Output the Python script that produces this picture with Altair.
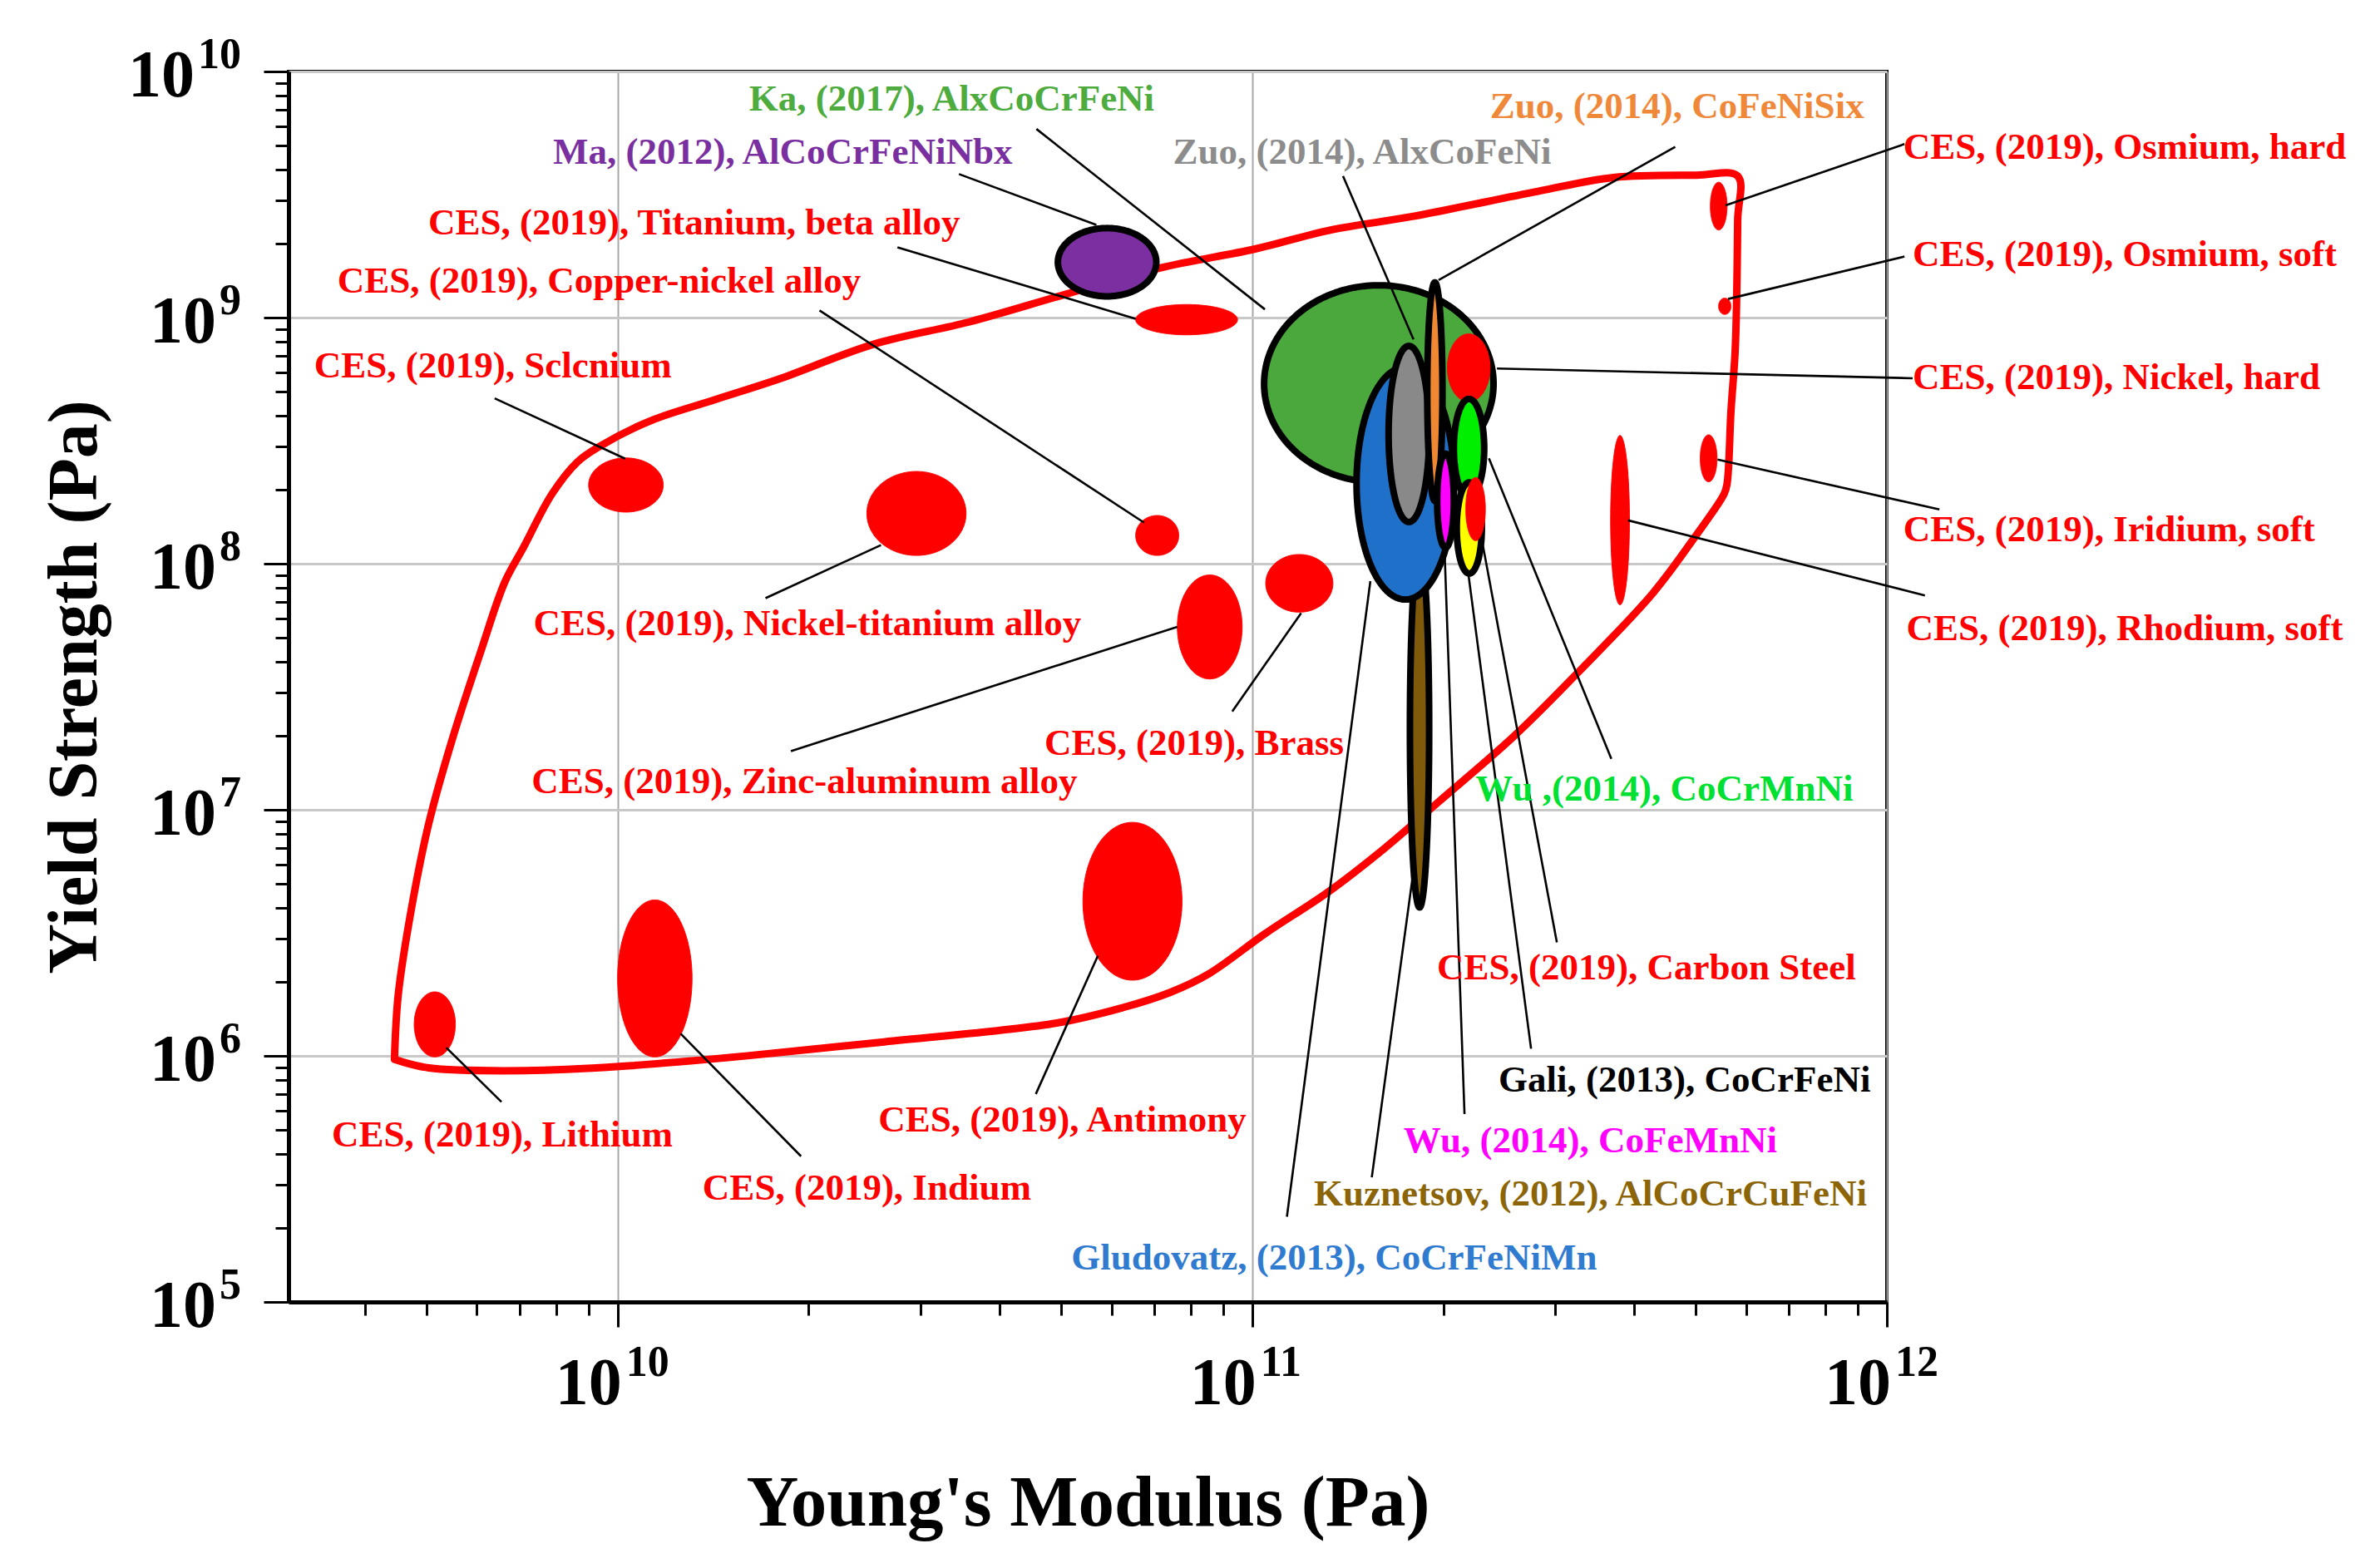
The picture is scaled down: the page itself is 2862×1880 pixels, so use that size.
import altair as alt
import pandas as pd

# ---------------- axis ranges ----------------
X_MIN, X_MAX = 3.03e9, 1e12
Y_MIN, Y_MAX = 1e5, 1e10

# ---------------- material property ranges (Pa) ----------------
ell_names = [
    "CES Lithium", "CES Indium", "CES Antimony", "CES Selenium", "CES Nickel-titanium alloy",
    "CES Copper-nickel alloy", "CES Zinc-aluminum alloy", "CES Brass", "CES Titanium beta alloy",
    "CES Osmium hard", "CES Osmium soft", "CES Iridium soft", "CES Rhodium soft",
    "Ma AlCoCrFeNiNbx", "Ka AlxCoCrFeNi", "Kuznetsov AlCoCrCuFeNi", "Gludovatz CoCrFeNiMn",
    "Zuo AlxCoFeNi", "Zuo CoFeNiSix", "Wu CoFeMnNi", "CES Nickel hard", "Wu CoCrMnNi",
    "Gali CoCrFeNi", "CES Carbon Steel",
]
ell_e_min = [4.78e9, 1.00e10, 5.41e10, 9.0e9, 2.47e10, 6.55e10, 7.62e10, 1.05e11, 6.55e10,
             5.27e11, 5.43e11, 5.08e11, 3.67e11,
             4.94e10, 1.044e11, 1.772e11, 1.46e11, 1.64e11, 1.887e11, 1.956e11, 2.03e11, 2.078e11,
             2.10e11, 2.17e11]
ell_e_max = [5.55e9, 1.31e10, 7.75e10, 1.18e10, 3.54e10, 7.66e10, 9.64e10, 1.34e11, 9.48e10,
             5.60e11, 5.68e11, 5.40e11, 3.93e11,
             7.06e10, 2.40e11, 1.90e11, 2.08e11, 1.90e11, 1.994e11, 2.078e11, 2.37e11, 2.32e11,
             2.30e11, 2.33e11]
ell_s_min = [9.9e5, 9.9e5, 2.03e6, 1.62e8, 1.08e8, 1.08e8, 3.4e7, 6.35e7, 8.51e8,
             2.27e9, 1.03e9, 2.15e8, 6.8e7,
             1.22e9, 2.14e8, 4.01e6, 7.15e7, 1.477e8, 1.80e8, 1.16e8, 4.55e8, 1.855e8,
             9.12e7, 1.24e8]
ell_s_max = [1.82e6, 4.3e6, 8.89e6, 2.69e8, 2.37e8, 1.57e8, 9.0e7, 1.09e8, 1.13e9,
             3.55e9, 1.2e9, 3.34e8, 3.32e8,
             2.31e9, 1.353e9, 1.145e8, 6.29e8, 7.67e8, 1.39e9, 2.80e8, 8.59e8, 4.67e8,
             2.14e8, 2.24e8]

# style per range (fill colour, black outline or not)
ell_fill = ["#ff0000"] * 13 + ["#7b2fa0", "#4aa83c", "#7f5a0a", "#1e70c8", "#898989", "#f08833",
                               "#ff00ff", "#ff0000", "#00ee00", "#ffff00", "#ff0000"]
ell_outline = [False] * 13 + [True, True, True, True, True, True, True, False, True, True, False]

# ---------------- envelope (closed boundary) ----------------
env_E = [4.45e9, 4.51e9, 4.73e9, 5.04e9, 5.5e9, 6.09e9, 6.64e9, 7.1e9, 7.88e9, 8.64e9, 9.37e9,
         1.127e10, 1.42e10, 1.79e10, 2.53e10, 3.58e10, 5.06e10, 7.15e10, 1.01e11, 1.33e11,
         1.795e11, 2.82e11, 3.71e11, 5.01e11, 5.82e11, 5.82e11, 5.77e11, 5.68e11, 5.6e11,
         5.54e11, 5.0e11, 4.28e11, 3.3e11, 2.59e11, 1.96e11, 1.62e11, 1.315e11, 1.05e11,
         8.53e10, 7.42e10, 6.25e10, 4.92e10, 2.63e10, 1.59e10, 1.016e10, 7.16e9, 5.04e9, 4.45e9]
env_S = [9.68e5, 1.76e6, 3.94e6, 8.81e6, 1.97e7, 4.42e7, 8.42e7, 1.16e8, 1.92e8, 2.59e8, 3.0e8,
         3.81e8, 4.63e8, 5.61e8, 7.79e8, 9.6e8, 1.24e9, 1.59e9, 1.9e9, 2.27e9,
         2.58e9, 3.26e9, 3.71e9, 3.79e9, 3.76e9, 2.49e9, 7.56e8, 4.17e8, 2.11e8,
         1.92e8, 1.3e8, 7.6e7, 3.73e7, 2.0e7, 1.07e7, 7.01e6, 4.62e6, 3.15e6,
         2.15e6, 1.81e6, 1.57e6, 1.36e6, 1.14e6, 9.99e5, 9.07e5, 8.71e5, 8.93e5, 9.68e5]

# ---------------- annotation labels ----------------
label_text = [
    "Ka, (2017), AlxCoCrFeNi", "Ma, (2012), AlCoCrFeNiNbx", "Zuo, (2014), AlxCoFeNi",
    "Zuo, (2014), CoFeNiSix", "CES, (2019), Osmium, hard", "CES, (2019), Titanium, beta alloy",
    "CES, (2019), Osmium, soft", "CES, (2019), Copper-nickel alloy", "CES, (2019), Sclcnium",
    "CES, (2019), Nickel, hard", "CES, (2019), Iridium, soft", "CES, (2019), Nickel-titanium alloy",
    "CES, (2019), Rhodium, soft", "CES, (2019), Brass", "CES, (2019), Zinc-aluminum alloy",
    "Wu ,(2014), CoCrMnNi", "CES, (2019), Carbon Steel", "Gali, (2013), CoCrFeNi",
    "CES, (2019), Lithium", "CES, (2019), Antimony", "Wu, (2014), CoFeMnNi", "CES, (2019), Indium",
    "Kuznetsov, (2012), AlCoCrCuFeNi", "Gludovatz, (2013), CoCrFeNiMn",
]
label_group = ["Ka", "Ma", "ZuoA", "ZuoB", "CES", "CES", "CES", "CES", "CES", "CES", "CES", "CES",
               "CES", "CES", "CES", "WuA", "CES", "Gali", "CES", "CES", "WuB", "CES", "Kuz", "Glu"]
label_E = [3.36e10, 1.82e10, 1.49e11, 4.67e11, 2.37e12, 1.32e10, 2.37e12, 9.35e9, 6.36e9,
           2.30e12, 2.24e12, 1.99e10, 2.37e12, 8.1e10, 1.97e10, 4.46e11, 4.18e11, 4.80e11,
           6.58e9, 5.02e10, 3.41e11, 2.47e10, 3.41e11, 1.346e11]
label_S = [7.76e9, 4.72e9, 4.72e9, 7.22e9, 4.93e9, 2.42e9, 1.8e9, 1.41e9, 6.38e8,
           5.69e8, 1.38e8, 5.71e7, 5.47e7, 1.86e7, 1.30e7, 1.215e7, 2.28e6, 7.96e5,
           4.77e5, 5.5e5, 4.51e5, 2.9e5, 2.74e5, 1.51e5]
group_names = ["CES", "Ka", "Ma", "ZuoA", "ZuoB", "WuA", "WuB", "Gali", "Kuz", "Glu"]
group_colors = ["#ff0000", "#4eac3f", "#7a2fa0", "#8c8c8c", "#f0883a", "#00e033", "#ff00ff",
                "#000000", "#8b6508", "#2f7bd0"]

# leader lines: label end -> range end
lead_E1 = [4.57e10, 3.45e10, 2.76e10, 2.08e10, 6.4e9, 1.71e10, 1.875e10, 9.3e10, 6.56e9, 1.945e10,
           4.56e10, 1.134e11, 1.543e11, 2.16e11, 2.75e11, 3.02e11, 3.68e11, 1.39e11, 4.64e11,
           1.066e12, 1.066e12, 1.098e12, 1.21e12, 1.148e12]
lead_S1 = [5.84e9, 3.83e9, 1.93e9, 1.07e9, 4.7e8, 7.24e7, 1.73e7, 2.51e7, 6.5e5, 3.91e5,
           7.0e5, 2.22e5, 3.21e5, 5.8e5, 1.07e6, 2.89e6, 1.61e7, 3.76e9, 4.94e9,
           5.07e9, 1.77e9, 5.67e8, 1.66e8, 7.43e7]
lead_E2 = [1.047e11, 5.68e10, 6.55e10, 6.75e10, 1.028e10, 2.60e10, 7.62e10, 1.194e11, 5.37e9,
           1.257e10, 5.71e10, 1.535e11, 1.8e11, 2.01e11, 2.19e11, 2.31e11, 2.36e11, 1.795e11,
           1.966e11, 5.57e11, 5.62e11, 2.43e11, 5.41e11, 3.91e11]
lead_S2 = [1.08e9, 2.38e9, 9.89e8, 1.47e8, 2.67e8, 1.19e8, 5.54e7, 6.3e7, 1.08e6, 1.23e6,
           2.55e6, 8.49e7, 5.97e6, 1.1e8, 9.12e7, 1.18e8, 2.68e8, 8.15e8, 1.42e9,
           2.86e9, 1.19e9, 6.21e8, 2.65e8, 1.5e8]

# ---------------- tick labels ----------------
y_exps = [5, 6, 7, 8, 9, 10]
x_exps = [10, 11, 12]
y_major = [10.0 ** e for e in y_exps]
x_major = [10.0 ** e for e in x_exps]
y_minor = [m * 10.0 ** e for e in range(5, 10) for m in range(2, 10)]
x_minor = [m * 10.0 ** e for e in range(9, 12) for m in range(2, 10) if m * 10.0 ** e > X_MIN]

FONT = "Liberation Serif"
xs = alt.Scale(type="log", domain=[X_MIN, X_MAX], nice=False)
ys = alt.Scale(type="log", domain=[Y_MIN, Y_MAX], nice=False)

# ---------------- layers ----------------
env_df = pd.DataFrame({"i": list(range(len(env_E))), "E": env_E, "S": env_S})
envelope = alt.Chart(env_df).mark_line(
    color="#ff0000", strokeWidth=9, strokeJoin="round", strokeCap="round",
    interpolate="catmull-rom"
).encode(
    x=alt.X("E:Q", scale=xs, axis=alt.Axis(
        orient="bottom", values=x_major, labels=False, tickSize=30, tickWidth=3,
        tickColor="black", domainColor="black", domainWidth=5, grid=True,
        gridColor="#a8a8a8", gridWidth=2, title="Young's Modulus (Pa)", titleFont=FONT,
        titleFontSize=87, titleFontWeight="bold", titleColor="black",
        titleBaseline="alphabetic", titleY=268)),
    y=alt.Y("S:Q", scale=ys, axis=alt.Axis(
        orient="left", values=y_major, labels=False, tickSize=30, tickWidth=3,
        tickColor="black", domainColor="black", domainWidth=5, grid=True,
        gridColor="#c8c8c8", gridWidth=3, title="Yield Strength (Pa)", titleFont=FONT,
        titleFontSize=84, titleFontWeight="bold", titleColor="black", titleAngle=270,
        titleBaseline="alphabetic", titleX=-232, titleY=740, titleAlign="center")),
    order=alt.Order("i:Q"),
)

ell_df = pd.DataFrame({"idx": list(range(len(ell_names))), "name": ell_names,
                       "e_min": ell_e_min, "e_max": ell_e_max,
                       "s_min": ell_s_min, "s_max": ell_s_max})

ellipse_layers = []
for i in range(len(ell_names)):
    if ell_outline[i]:
        stroke_c, stroke_w = "black", 8
    else:
        stroke_c, stroke_w = ell_fill[i], 1
    layer = (
        alt.Chart(ell_df)
        .transform_filter(alt.datum.idx == i)
        .transform_calculate(k="sequence(0, 121)")
        .transform_flatten(["k"])
        .transform_calculate(cx="(log(datum.e_min) + log(datum.e_max)) / (2 * LN10)")
        .transform_calculate(rx="(log(datum.e_max) - log(datum.e_min)) / (2 * LN10)")
        .transform_calculate(cy="(log(datum.s_min) + log(datum.s_max)) / (2 * LN10)")
        .transform_calculate(ry="(log(datum.s_max) - log(datum.s_min)) / (2 * LN10)")
        .transform_calculate(a="PI * datum.k / 120")
        .transform_calculate(ex="pow(10, datum.cx - datum.rx * cos(datum.a))")
        .transform_calculate(sy1="pow(10, datum.cy + datum.ry * sin(datum.a))")
        .transform_calculate(sy2="pow(10, datum.cy - datum.ry * sin(datum.a))")
        .mark_area(strokeJoin="round")
        .encode(
            x=alt.X("ex:Q", scale=xs, axis=None),
            y=alt.Y("sy1:Q", scale=ys, axis=None),
            y2="sy2:Q",
            fill=alt.value(ell_fill[i]),
            stroke=alt.value(stroke_c),
            strokeWidth=alt.value(stroke_w),
            opacity=alt.value(1),
        )
    )
    ellipse_layers.append(layer)

lead_df = pd.DataFrame({"E1": lead_E1, "S1": lead_S1, "E2": lead_E2, "S2": lead_S2})
leaders = alt.Chart(lead_df).mark_rule(color="black", strokeWidth=2.6).encode(
    x=alt.X("E1:Q", scale=xs, axis=alt.Axis(
        orient="bottom", values=x_minor, labels=False, tickSize=16, tickWidth=3,
        tickColor="black", domain=False, grid=False, title=None)),
    y=alt.Y("S1:Q", scale=ys, axis=alt.Axis(
        orient="left", values=y_minor, labels=False, tickSize=16, tickWidth=3,
        tickColor="black", domain=False, grid=False, title=None)),
    x2="E2:Q",
    y2="S2:Q",
)

lab_df = pd.DataFrame({"text": label_text, "group": label_group, "E": label_E, "S": label_S})
labels = alt.Chart(lab_df).mark_text(
    font=FONT, fontSize=45, fontWeight="bold", align="center", baseline="middle"
).encode(
    x=alt.X("E:Q", scale=xs, axis=None),
    y=alt.Y("S:Q", scale=ys, axis=None),
    text="text:N",
    color=alt.Color("group:N", scale=alt.Scale(domain=group_names, range=group_colors),
                    legend=None),
)

# tick labels drawn as "10" + superscript exponent
ytick_df = pd.DataFrame({"v": y_major, "e": [str(e) for e in y_exps]})
xtick_df = pd.DataFrame({"v": x_major, "e": [str(e) for e in x_exps]})
x_left = alt.XDatum(X_MIN, type="quantitative", scale=xs, axis=None)
y_bottom = alt.YDatum(Y_MIN, type="quantitative", scale=ys, axis=None)

ybase1 = alt.Chart(ytick_df).transform_filter("length(datum.e) == 1").mark_text(
    text="10", font=FONT, fontSize=80, fontWeight="bold", align="right", baseline="middle",
    dx=-87, dy=6, color="black"
).encode(x=x_left, y=alt.Y("v:Q", scale=ys, axis=None))
ybase2 = alt.Chart(ytick_df).transform_filter("length(datum.e) == 2").mark_text(
    text="10", font=FONT, fontSize=80, fontWeight="bold", align="right", baseline="middle",
    dx=-113, dy=6, color="black"
).encode(x=x_left, y=alt.Y("v:Q", scale=ys, axis=None))
yexp = alt.Chart(ytick_df).mark_text(
    font=FONT, fontSize=52, fontWeight="bold", align="right", baseline="middle",
    dx=-57, dy=-20, color="black"
).encode(x=x_left, y=alt.Y("v:Q", scale=ys, axis=None), text="e:N")

xbase = alt.Chart(xtick_df).mark_text(
    text="10", font=FONT, fontSize=80, fontWeight="bold", align="right", baseline="middle",
    dx=5, dy=99, color="black"
).encode(x=alt.X("v:Q", scale=xs, axis=None), y=y_bottom)
xexp = alt.Chart(xtick_df).mark_text(
    font=FONT, fontSize=52, fontWeight="bold", align="left", baseline="middle",
    dx=10, dy=73, color="black"
).encode(x=alt.X("v:Q", scale=xs, axis=None), y=y_bottom, text="e:N")

chart = alt.layer(
    envelope, *ellipse_layers, leaders, labels, ybase1, ybase2, yexp, xbase, xexp
).resolve_axis(
    x="independent", y="independent"
).properties(
    width=1922, height=1480,
    padding={"left": 339, "top": 78, "right": 585, "bottom": 306},
    autosize=alt.AutoSizeParams(type="none"),
    background="white",
).configure_view(stroke="black", strokeWidth=4)

chart.save("out.html", embed_options={"renderer": "svg", "actions": False})
